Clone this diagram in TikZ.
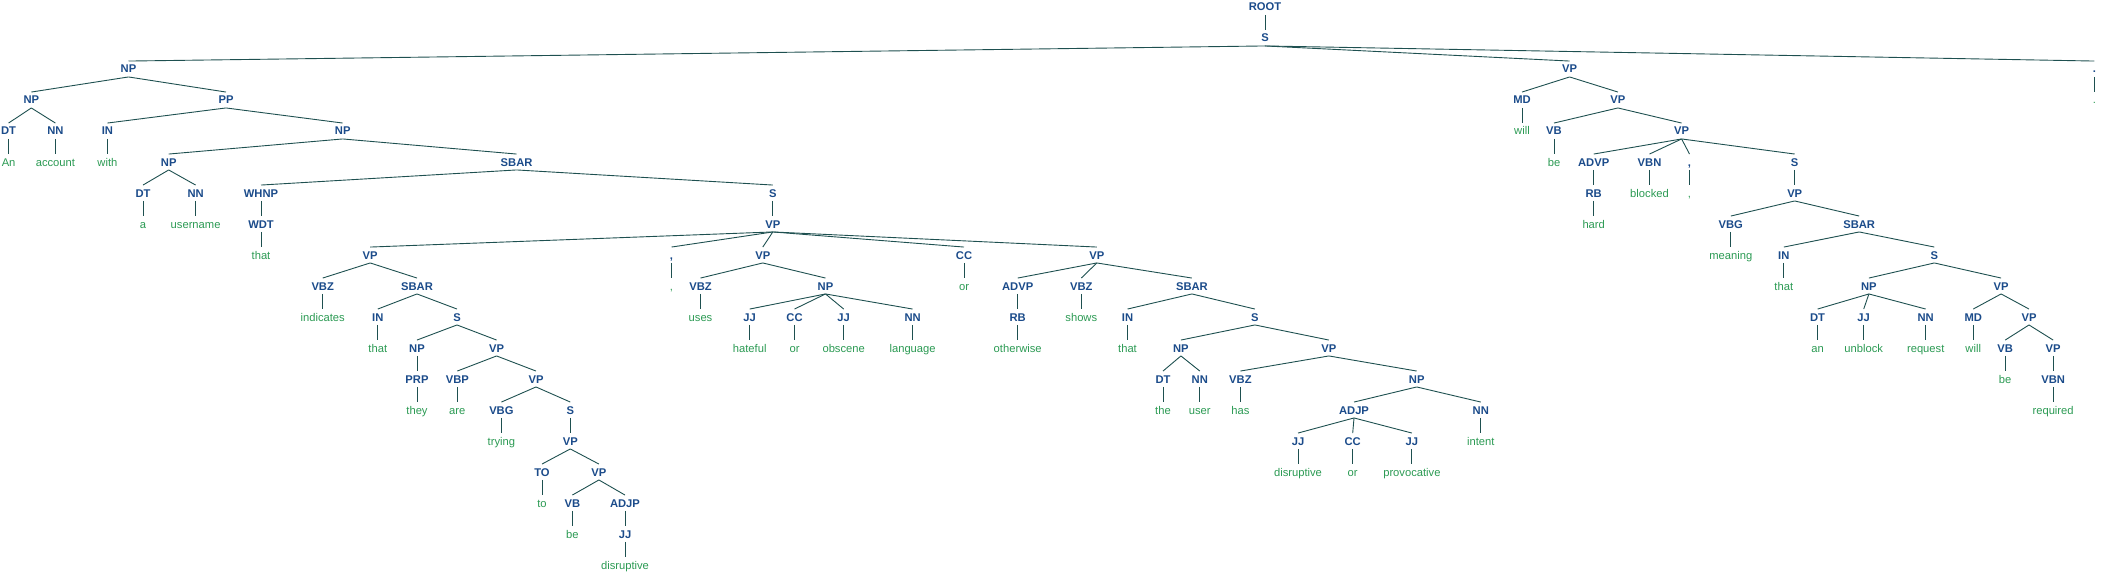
\documentclass[tikz,border=0pt]{standalone}
\usepackage{fontspec}
\newfontfamily\treefont{Liberation Sans}
\definecolor{labblue}{HTML}{1B4B8A}
\definecolor{wrdgreen}{HTML}{2B9A53}
\definecolor{edgecol}{HTML}{1E5050}
\tikzset{
  lab/.style={font=\treefont\bfseries\fontsize{11.2}{13}\selectfont, text=labblue, inner xsep=0pt, inner ysep=3.75pt, text height=8pt, text depth=0pt, anchor=center},
  wrd/.style={lab, font=\treefont\fontsize{11.2}{13}\selectfont, text=wrdgreen},
  edge/.style={draw=edgecol, line width=0.9pt}
}
\newcommand\TN[5]{\node[lab] (#1) at (#3,#4) {#5}; \draw[edge] (#2.south) -- (#1.north);}
\newcommand\TW[5]{\node[wrd] (#1) at (#3,#4) {#5}; \draw[edge] (#2.south) -- (#1.north);}
\begin{document}
\begin{tikzpicture}[x=1pt,y=1pt]
\useasboundingbox (0,0) rectangle (2101,-575);
\node[lab] (r) at (1265,-7) {ROOT};
\TN{s}{r}{1265}{-38}{S}
% subject NP
\TN{np1}{s}{128.5}{-69}{NP}
\TN{np2}{np1}{31.3}{-100}{NP}
\TN{dt1}{np2}{8.6}{-131}{DT}
\TW{w1}{dt1}{8.6}{-162}{An}
\TN{nn1}{np2}{55.4}{-131}{NN}
\TW{w2}{nn1}{55.4}{-162}{account}
\TN{pp1}{np1}{226}{-100}{PP}
\TN{in1}{pp1}{107.4}{-131}{IN}
\TW{w3}{in1}{107.4}{-162}{with}
\TN{np3}{pp1}{342.7}{-131}{NP}
\TN{np4}{np3}{168.7}{-162}{NP}
\TN{dt2}{np4}{143}{-193}{DT}
\TW{w4}{dt2}{143}{-224}{a}
\TN{nn2}{np4}{195.6}{-193}{NN}
\TW{w5}{nn2}{195.6}{-224}{username}
\TN{sbar1}{np3}{516.6}{-162}{SBAR}
\TN{whnp}{sbar1}{261}{-193}{WHNP}
\TN{wdt}{whnp}{261}{-224}{WDT}
\TW{w6}{wdt}{261}{-255}{that}
\TN{s2}{sbar1}{772.8}{-193}{S}
\TN{vp1}{s2}{772.8}{-224}{VP}
\TN{vp2}{vp1}{370.2}{-255}{VP}
\TN{vbz1}{vp2}{322.7}{-286}{VBZ}
\TW{w7}{vbz1}{322.7}{-317}{indicates}
\TN{sbar2}{vp2}{417}{-286}{SBAR}
\TN{in2}{sbar2}{377.8}{-317}{IN}
\TW{w8}{in2}{377.8}{-348}{that}
\TN{s3}{sbar2}{457}{-317}{S}
\TN{np5}{s3}{417}{-348}{NP}
\TN{prp}{np5}{417}{-379}{PRP}
\TW{w9}{prp}{417}{-410}{they}
\TN{vp3}{s3}{496.6}{-348}{VP}
\TN{vbp}{vp3}{457.3}{-379}{VBP}
\TW{w10}{vbp}{457.3}{-410}{are}
\TN{vp4}{vp3}{536}{-379}{VP}
\TN{vbg1}{vp4}{501.4}{-410}{VBG}
\TW{w11}{vbg1}{501.4}{-441}{trying}
\TN{s4}{vp4}{570.3}{-410}{S}
\TN{vp5}{s4}{570.3}{-441}{VP}
\TN{to1}{vp5}{542}{-472}{TO}
\TW{w12}{to1}{542}{-503}{to}
\TN{vp6}{vp5}{598.9}{-472}{VP}
\TN{vb1}{vp6}{572.4}{-503}{VB}
\TW{w13}{vb1}{572.4}{-534}{be}
\TN{adjp1}{vp6}{625}{-503}{ADJP}
\TN{jj1}{adjp1}{625}{-534}{JJ}
\TW{w14}{jj1}{625}{-565}{disruptive}
\TN{cm1}{vp1}{671.5}{-255}{,}
\TW{w15}{cm1}{671.5}{-286}{,}
\TN{vp7}{vp1}{762.8}{-255}{VP}
\TN{vbz2}{vp7}{700.5}{-286}{VBZ}
\TW{w16}{vbz2}{700.5}{-317}{uses}
\TN{np6}{vp7}{825.5}{-286}{NP}
\TN{jj2}{np6}{749.7}{-317}{JJ}
\TW{w17}{jj2}{749.7}{-348}{hateful}
\TN{cc1}{np6}{794.5}{-317}{CC}
\TW{w18}{cc1}{794.5}{-348}{or}
\TN{jj3}{np6}{843.7}{-317}{JJ}
\TW{w19}{jj3}{843.7}{-348}{obscene}
\TN{nn3}{np6}{912.6}{-317}{NN}
\TW{w20}{nn3}{912.6}{-348}{language}
\TN{cc2}{vp1}{964}{-255}{CC}
\TW{w21}{cc2}{964}{-286}{or}
\TN{vp8}{vp1}{1096.8}{-255}{VP}
\TN{advp1}{vp8}{1017.7}{-286}{ADVP}
\TN{rb1}{advp1}{1017.7}{-317}{RB}
\TW{w22}{rb1}{1017.7}{-348}{otherwise}
\TN{vbz3}{vp8}{1081.3}{-286}{VBZ}
\TW{w23}{vbz3}{1081.3}{-317}{shows}
\TN{sbar3}{vp8}{1191.9}{-286}{SBAR}
\TN{in3}{sbar3}{1127.5}{-317}{IN}
\TW{w24}{in3}{1127.5}{-348}{that}
\TN{s5}{sbar3}{1254.9}{-317}{S}
\TN{np7}{s5}{1180.9}{-348}{NP}
\TN{dt3}{np7}{1163}{-379}{DT}
\TW{w25}{dt3}{1163}{-410}{the}
\TN{nn4}{np7}{1199.8}{-379}{NN}
\TW{w26}{nn4}{1199.8}{-410}{user}
\TN{vp9}{s5}{1328.9}{-348}{VP}
\TN{vbz4}{vp9}{1240.4}{-379}{VBZ}
\TW{w27}{vbz4}{1240.4}{-410}{has}
\TN{np8}{vp9}{1416.7}{-379}{NP}
\TN{adjp2}{np8}{1354}{-410}{ADJP}
\TN{jj4}{adjp2}{1298}{-441}{JJ}
\TW{w28}{jj4}{1298}{-472}{disruptive}
\TN{cc3}{adjp2}{1352.7}{-441}{CC}
\TW{w29}{cc3}{1352.7}{-472}{or}
\TN{jj5}{adjp2}{1411.9}{-441}{JJ}
\TW{w30}{jj5}{1411.9}{-472}{provocative}
\TN{nn5}{np8}{1480.8}{-410}{NN}
\TW{w31}{nn5}{1480.8}{-441}{intent}
% predicate VP
\TN{vp10}{s}{1569.6}{-69}{VP}
\TN{md1}{vp10}{1522}{-100}{MD}
\TW{w32}{md1}{1522}{-131}{will}
\TN{vp11}{vp10}{1617.9}{-100}{VP}
\TN{vb2}{vp11}{1554}{-131}{VB}
\TW{w33}{vb2}{1554}{-162}{be}
\TN{vp12}{vp11}{1681.6}{-131}{VP}
\TN{advp2}{vp12}{1593.7}{-162}{ADVP}
\TN{rb2}{advp2}{1593.7}{-193}{RB}
\TW{w34}{rb2}{1593.7}{-224}{hard}
\TN{vbn1}{vp12}{1649.5}{-162}{VBN}
\TW{w35}{vbn1}{1649.5}{-193}{blocked}
\TN{cm2}{vp12}{1689.5}{-162}{,}
\TW{w36}{cm2}{1689.5}{-193}{,}
\TN{s6}{vp12}{1794.7}{-162}{S}
\TN{vp13}{s6}{1794.7}{-193}{VP}
\TN{vbg2}{vp13}{1730.8}{-224}{VBG}
\TW{w37}{vbg2}{1730.8}{-255}{meaning}
\TN{sbar4}{vp13}{1859.2}{-224}{SBAR}
\TN{in4}{sbar4}{1783.8}{-255}{IN}
\TW{w38}{in4}{1783.8}{-286}{that}
\TN{s7}{sbar4}{1934.3}{-255}{S}
\TN{np9}{s7}{1868.9}{-286}{NP}
\TN{dt4}{np9}{1817.6}{-317}{DT}
\TW{w39}{dt4}{1817.6}{-348}{an}
\TN{jj6}{np9}{1863.7}{-317}{JJ}
\TW{w40}{jj6}{1863.7}{-348}{unblock}
\TN{nn6}{np9}{1925.7}{-317}{NN}
\TW{w41}{nn6}{1925.7}{-348}{request}
\TN{vp14}{s7}{2001.1}{-286}{VP}
\TN{md2}{vp14}{1973.2}{-317}{MD}
\TW{w42}{md2}{1973.2}{-348}{will}
\TN{vp15}{vp14}{2029}{-317}{VP}
\TN{vb3}{vp15}{2005.2}{-348}{VB}
\TW{w43}{vb3}{2005.2}{-379}{be}
\TN{vp16}{vp15}{2053.1}{-348}{VP}
\TN{vbn2}{vp16}{2053.1}{-379}{VBN}
\TW{w44}{vbn2}{2053.1}{-410}{required}
% final period
\TN{pd}{s}{2094.4}{-69}{.}
\TW{w45}{pd}{2094.4}{-100}{.}
\end{tikzpicture}
\end{document}
